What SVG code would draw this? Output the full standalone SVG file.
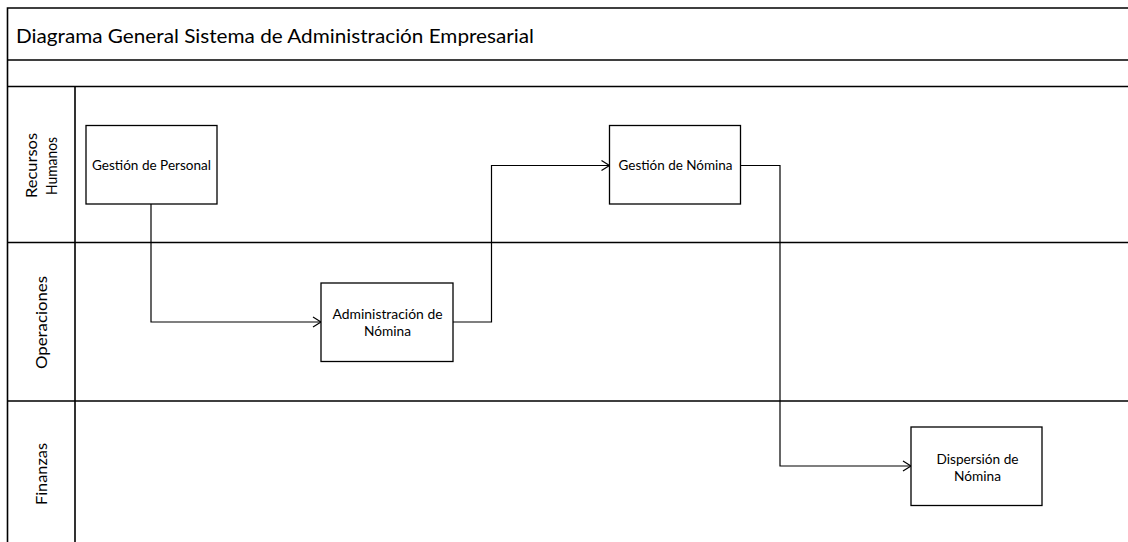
<svg xmlns="http://www.w3.org/2000/svg" width="1128" height="542" viewBox="0 0 1128 542">
<defs>
<style>
.frame{fill:none;stroke:#000;stroke-width:1.6}
.node{fill:#fff;stroke:#000;stroke-width:1.3}
.conn{fill:none;stroke:#000;stroke-width:1.2}
text{font-family:Lato,"Liberation Sans",Arial,sans-serif;fill:#000}
.t{font-size:13px;text-anchor:middle}
.lane{font-size:15px;text-anchor:middle}
</style>
<marker id="arr" markerWidth="12" markerHeight="12" refX="9" refY="6" orient="auto" markerUnits="userSpaceOnUse">
<path d="M1,1 L9,6 L1,11" fill="none" stroke="#000" stroke-width="1.2"/>
</marker>
</defs>
<rect width="1128" height="542" fill="#fff"/>
<g id="pool">
<path class="frame" d="M7.5,560 V8 H1140 M7.5,60 H1140 M7.5,86.5 H1140 M75,86.5 V560 M7.5,242.5 H1140 M7.5,401 H1140"/>
<text x="16" y="42.5" font-size="20" textLength="518" lengthAdjust="spacingAndGlyphs">Diagrama General Sistema de Administración Empresarial</text>
</g>
<g id="lane-rh">
<text class="lane" transform="translate(36.5,165.5) rotate(-90)" textLength="65" lengthAdjust="spacingAndGlyphs">Recursos</text>
<text class="lane" transform="translate(56.5,166) rotate(-90)" textLength="58" lengthAdjust="spacingAndGlyphs">Humanos</text>
</g>
<g id="lane-op">
<text class="lane" transform="translate(46.5,322.5) rotate(-90)" textLength="93" lengthAdjust="spacingAndGlyphs">Operaciones</text>
</g>
<g id="lane-fin">
<text class="lane" transform="translate(46.5,474) rotate(-90)" textLength="62" lengthAdjust="spacingAndGlyphs">Finanzas</text>
</g>
<g id="connectors">
<path class="conn" d="M151,204 V322 H321" marker-end="url(#arr)"/>
<path class="conn" d="M453,322 H491.5 V165.5 H609.5" marker-end="url(#arr)"/>
<path class="conn" d="M740.5,165.5 H780 V466 H911" marker-end="url(#arr)"/>
</g>
<g id="n1">
<rect class="node" x="86" y="125.5" width="131" height="78.5"/>
<text class="t" x="151.5" y="170" textLength="119" lengthAdjust="spacingAndGlyphs">Gestión de Personal</text>
</g>
<g id="n2">
<rect class="node" x="321" y="283" width="132" height="78.5"/>
<text class="t" x="387.5" y="319" textLength="110" lengthAdjust="spacingAndGlyphs">Administración de</text>
<text class="t" x="387.5" y="335.5" textLength="47" lengthAdjust="spacingAndGlyphs">Nómina</text>
</g>
<g id="n3">
<rect class="node" x="609.5" y="125.5" width="131" height="78.5"/>
<text class="t" x="675.5" y="170" textLength="114" lengthAdjust="spacingAndGlyphs">Gestión de Nómina</text>
</g>
<g id="n4">
<rect class="node" x="911" y="427" width="131" height="78.5"/>
<text class="t" x="977.5" y="463.5" textLength="82" lengthAdjust="spacingAndGlyphs">Dispersión de</text>
<text class="t" x="977.5" y="481" textLength="47" lengthAdjust="spacingAndGlyphs">Nómina</text>
</g>
</svg>
